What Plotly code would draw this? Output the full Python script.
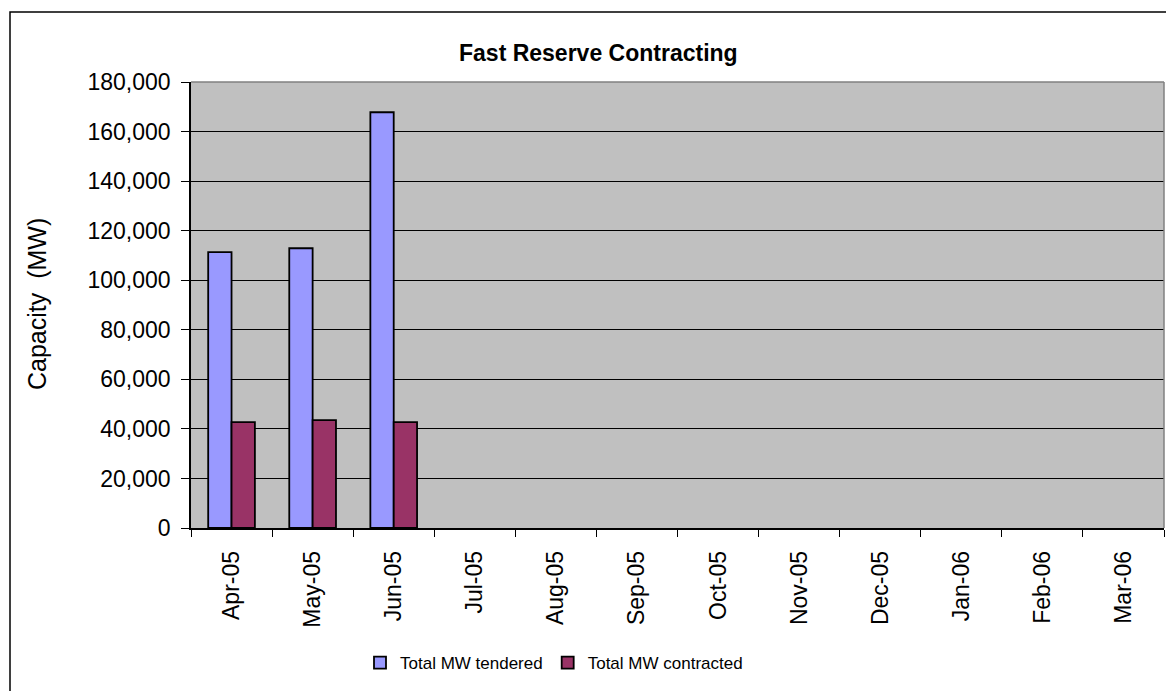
import plotly.graph_objects as go

months = ["Apr-05", "May-05", "Jun-05", "Jul-05", "Aug-05", "Sep-05",
          "Oct-05", "Nov-05", "Dec-05", "Jan-06", "Feb-06", "Mar-06"]
tendered = [111300, 112900, 167800, None, None, None, None, None, None, None, None, None]
contracted = [42700, 43500, 42700, None, None, None, None, None, None, None, None, None]
y_ticks = [0, 20000, 40000, 60000, 80000, 100000, 120000, 140000, 160000, 180000]

# page has an 8px body margin; work in figure coordinates (page - 8)
OFF = 8
W, H = 1174 - OFF, 691 - OFF
L, R, T, B = 191 - OFF, 1164 - OFF, 82 - OFF, 528 - OFF  # plot area bounds


def px(x):
    return (x - OFF - L) / (R - L)


def py(y):
    return (B - (y - OFF)) / (B - T)


fig = go.Figure()
fig.add_trace(go.Bar(x=months, y=tendered, name="Total MW tendered",
                     marker=dict(color="#9999FF", line=dict(color="#000000", width=1.8))))
fig.add_trace(go.Bar(x=months, y=contracted, name="Total MW contracted",
                     marker=dict(color="#993366", line=dict(color="#000000", width=1.8))))

font = "Liberation Sans, Arial, sans-serif"
fig.update_layout(
    width=W, height=H,
    margin=dict(l=L, r=W - R, t=T, b=H - B, pad=0),
    paper_bgcolor="white", plot_bgcolor="#C0C0C0",
    barmode="group", bargap=0.424, bargroupgap=0,
    font=dict(family=font, color="black"),
    showlegend=True,
    legend=dict(orientation="h", x=px(360), xanchor="left", y=py(663), yanchor="middle",
                font=dict(family=font, size=17),
                itemwidth=30, tracegroupgap=0, bgcolor="rgba(0,0,0,0)"),
    xaxis=dict(type="category", categoryorder="array", categoryarray=months,
               tickson="boundaries", ticks="outside", ticklen=7, tickcolor="black",
               tickangle=-90, tickfont=dict(size=23, family=font), ticklabelstandoff=12,
               showline=True, linecolor="black", linewidth=1.5, showgrid=False,
               mirror=False, fixedrange=True),
    yaxis=dict(range=[0, 180000], tickvals=y_ticks, tickformat=",",
               ticks="outside", ticklen=8, tickcolor="black",
               tickfont=dict(size=23, family=font), ticklabelstandoff=6,
               showline=True, linecolor="black", linewidth=1.5,
               showgrid=True, gridcolor="black", gridwidth=1, zeroline=False,
               fixedrange=True),
    shapes=[
        dict(type="line", xref="paper", yref="paper", x0=0, x1=1, y0=1, y1=1,
             line=dict(color="#808080", width=1.5)),
        dict(type="line", xref="paper", yref="paper", x0=1, x1=1, y0=0, y1=1,
             line=dict(color="#808080", width=1.5)),
        dict(type="rect", xref="paper", yref="paper", x0=px(10), x1=px(1200),
             y0=py(730), y1=py(12), line=dict(color="black", width=1.5)),
    ],
    annotations=[
        dict(text="<b>Fast Reserve Contracting</b>", xref="paper", yref="paper",
             x=px(598), y=py(53), xanchor="center", yanchor="middle", showarrow=False,
             font=dict(family=font, size=23)),
        dict(text="Capacity  (MW)", xref="paper", yref="paper",
             x=px(37), y=py(304), xanchor="center", yanchor="middle", textangle=-90,
             showarrow=False, font=dict(family=font, size=25)),
    ],
)

fig.write_html("out.html")
